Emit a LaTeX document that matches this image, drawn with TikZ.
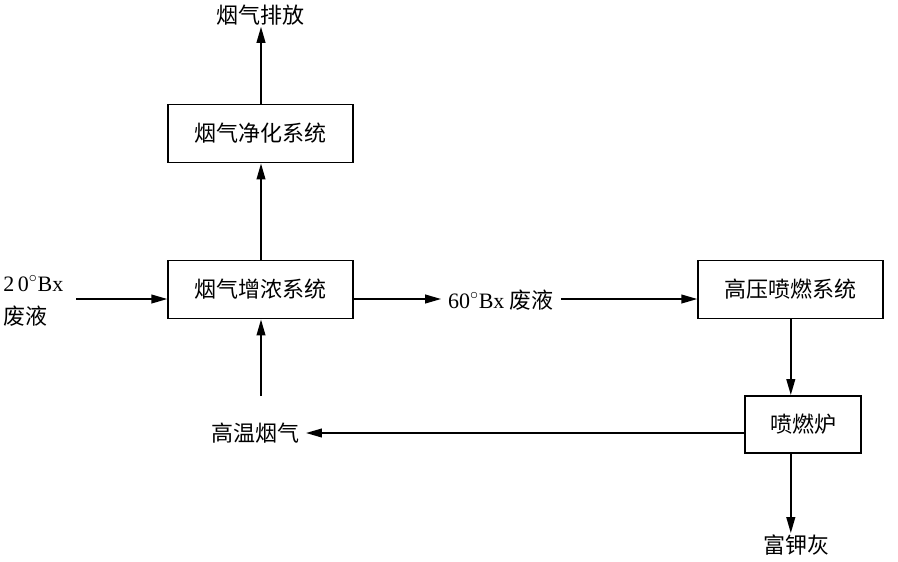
\documentclass[tikz,border=0pt]{standalone}
\usepackage{fontspec}
\setmainfont{Liberation Serif}
\newfontfamily\cjk{Noto Sans CJK SC}
\usetikzlibrary{arrows.meta,positioning,calc}
\tikzset{
  sysbox/.style={draw=black,line width=1.4pt,minimum width=138.75pt,minimum height=43.5pt,
                 inner sep=0pt,font=\cjk\fontsize{16.5}{20}\selectfont},
  lbl/.style={inner sep=1pt,font=\cjk\fontsize{16.5}{20}\selectfont},
  mix/.style={inner sep=5pt,font=\fontsize{16.5}{20}\selectfont},
  flow/.style={-{Triangle[length=12pt,width=6.5pt]},line width=1.4pt},
}

\begin{document}
\begin{tikzpicture}[x=0.75pt,y=-0.75pt]
  \useasboundingbox (0,0) rectangle (898,561);
  % boxes
  \node[sysbox] (clean) at (260.5,133.5) {烟气净化系统};
  \node[sysbox] (enrich) at (260.8,289.5) {烟气增浓系统};
  \node[sysbox] (spray) at (790.8,289.5) {高压喷燃系统};
  \node[sysbox,minimum width=87pt,minimum height=42.75pt] (furnace) at (803,424.5) {喷燃炉};
  % free labels
  \node[lbl] (out) at (260,15) {烟气排放};
  \node[mix,inner sep=0pt,align=left,anchor=west,font=\fontsize{16.5}{25}\selectfont] (feed) at (3,301)
    {2\,0$^\circ$Bx\\{\cjk 废液}};
  \node[mix] (mid) at (501,300) {60$^\circ$Bx {\cjk 废液}};
  \node[lbl,inner sep=5pt] (hot) at (255,433) {高温烟气};
  \node[lbl] (ash) at (796,545) {富钾灰};
  \coordinate (feedin) at (76,299);
  \coordinate (hotup) at (261,396);
  % flows
  \draw[flow] (feedin) -- (enrich.west |- feedin);
  \draw[flow] (enrich.east |- feedin) -- (mid.west |- feedin);
  \draw[flow] (mid.east |- feedin) -- (spray.west |- feedin);
  \draw[flow] (spray.south) -- (spray.south |- furnace.north);
  \draw[flow] (furnace.west |- hot.east) -- (hot.east);
  \draw[flow] (furnace.south -| spray.south) -- (ash.north -| spray.south);
  \draw[flow] (hotup) -- (enrich.south -| hotup);
  \draw[flow] (enrich.north -| hotup) -- (clean.south -| hotup);
  \draw[flow] (clean.north -| hotup) -- (out.south -| hotup);
\end{tikzpicture}
\end{document}
